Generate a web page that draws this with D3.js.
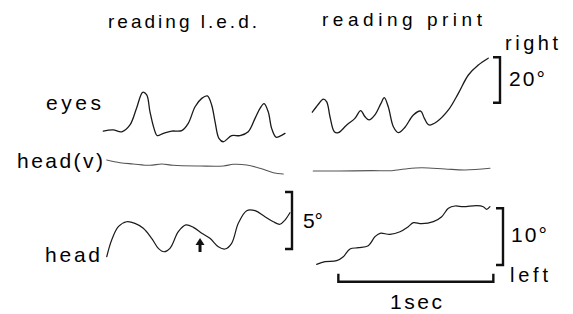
<!DOCTYPE html>
<html>
<head>
<meta charset="utf-8">
<script src="https://cdn.jsdelivr.net/npm/d3@7"></script>
<style>
  body { margin: 0; background: #fff; }
  text { font-family: "Liberation Sans", Arial, sans-serif; fill: #000; }
</style>
</head>
<body>
<svg></svg>
<script>
// traces: [time in ms, degrees]
const ledEyes = [[2,-12.5],[65,-12.0],[121,-12.8],[174,-9.8],[217,-2.3],[256,4.6],[282,3.4],[303,-4.0],[329,-11.3],[350,-14.5],[389,-13.5],[443,-12.5],[508,-12.3],[550,-9.1],[594,-1.8],[637,1.9],[673,3.0],[701,-1.0],[723,-8.4],[748,-15.7],[776,-17.2],[830,-14.5],[884,-14.5],[937,-12.8],[981,-6.9],[1013,-2.5],[1039,-0.4],[1066,-4.0],[1088,-11.3],[1116,-15.2],[1142,-14.7],[1174,-13.5]];
const printEyes = [[2,-4.2],[41,-0.7],[73,1.6],[95,0.4],[116,-6.2],[144,-12.8],[170,-13.2],[224,-9.8],[277,-6.9],[314,-3.5],[342,-6.2],[368,-7.6],[406,-5.4],[445,-0.3],[466,2.2],[492,-1.8],[525,-10.6],[557,-13.2],[600,-10.8],[654,-5.4],[701,-3.7],[725,-6.9],[755,-9.8],[805,-8.4],[880,-3.2],[944,4.1],[1009,12.2],[1073,16.6],[1137,19.6]];
const ledHeadV = [[24,0.53],[110,0.29],[195,0.18],[303,0.06],[379,0.18],[454,0.06],[626,0],[776,0],[841,0.15],[927,0.09],[1013,-0.2],[1099,-0.59],[1163,-0.7]];
const printHeadV = [[8,-0.44],[170,-0.44],[385,-0.41],[514,-0.41],[600,-0.26],[708,-0.15],[858,-0.26],[987,-0.35],[1148,-0.2]];
const ledHead = [[24,-0.68],[56,0.79],[99,1.96],[153,2.39],[206,2.25],[260,1.82],[314,0.94],[357,0.06],[394,-0.24],[432,0.06],[486,1.52],[535,2.11],[583,1.9],[637,1.38],[690,0.94],[744,0.2],[787,0],[830,0.5],[873,2.25],[927,3.36],[981,3.36],[1045,2.83],[1099,2.39],[1142,2.17],[1174,2.54],[1206,3.18]];
const printHead = [[30,0.12],[84,0.58],[159,0.76],[202,1.46],[245,2.82],[299,3.05],[363,3.4],[406,4.99],[439,5.59],[503,5.41],[568,5.87],[621,6.75],[654,7.46],[708,7.28],[783,7.64],[837,8.52],[880,10.0],[923,10.41],[976,10.28],[1062,10.46],[1105,10.28],[1127,9.82],[1148,10.28]];

const titles = ["reading l.e.d.", "reading print"];
const rowLabels = ["eyes", "head(v)", "head"];
const arrowAt = 626; // ms, left head trace
const secBar = [170, 1170];

const width = 573, height = 314;
const svg = d3.select("svg").attr("width", width).attr("height", height);

const tL = d3.scaleLinear().domain([0, 1000]).range([103, 258]);
const tR = d3.scaleLinear().domain([0, 1000]).range([312, 467]);
const eyeY = d3.scaleLinear().domain([0, 20]).range([102.7, 57.3]);
const vY = d3.scaleLinear().domain([0, 5]).range([166, 109]);
const headLY = d3.scaleLinear().domain([0, 5]).range([249, 192]);
const headRY = d3.scaleLinear().domain([0, 10]).range([265, 208.3]);

function trace(data, x, y, stroke, w) {
    const line = d3.line()
        .x(d => x(d[0]))
        .y(d => y(d[1]))
        .curve(d3.curveCatmullRom.alpha(0.5));
    svg.append("path")
        .datum(data)
        .attr("d", line)
        .attr("fill", "none")
        .attr("stroke", stroke)
        .attr("stroke-width", w)
        .attr("stroke-linejoin", "round")
        .attr("stroke-linecap", "round");
}

trace(ledEyes, tL, eyeY, "#1a1a1a", 1.3);
trace(printEyes, tR, eyeY, "#1a1a1a", 1.3);
trace(ledHeadV, tL, vY, "#555", 1.1);
trace(printHeadV, tR, vY, "#555", 1.1);
trace(ledHead, tL, headLY, "#1a1a1a", 1.2);
trace(printHead, tR, headRY, "#1a1a1a", 1.2);

// vertical scale brackets
function vBracket(x, y0, y1) {
    svg.append("path")
        .attr("d", `M${x - 7},${y0}H${x}V${y1}H${x - 7}`)
        .attr("fill", "none")
        .attr("stroke", "#111")
        .attr("stroke-width", 2.4);
}
vBracket(500, eyeY(0), eyeY(20));
vBracket(292, headLY(0), headLY(5));
vBracket(503, headRY(0), headRY(10));

// 1 sec bar
const by = 281.7;
svg.append("path")
    .attr("d", `M${tR(secBar[0])},${by - 8}V${by}H${tR(secBar[1])}V${by - 8}`)
    .attr("fill", "none")
    .attr("stroke", "#111")
    .attr("stroke-width", 2.4);

// arrow
const ax = tL(arrowAt);
const aTip = headLY(0.96), aBot = headLY(-0.26);
svg.append("path")
    .attr("d", `M${ax},${aTip}L${ax + 4.5},${aTip + 7}H${ax + 1.5}V${aBot}H${ax - 1.5}V${aTip + 7}H${ax - 4.5}Z`)
    .attr("fill", "#111");

// labels
function label(txt, x, y, size, len) {
    svg.append("text")
        .attr("x", x)
        .attr("y", y)
        .attr("font-size", size)
        .attr("textLength", len)
        .attr("lengthAdjust", "spacing")
        .text(txt);
}
label(titles[0], 108, 28, 19, 149);
label(titles[1], 322, 26, 19, 160);
label(rowLabels[0], 46, 110, 21, 55);
label(rowLabels[1], 17, 168, 21, 86);
label(rowLabels[2], 45, 262, 21, 55);
label("right", 505, 50, 20, 53);
label("20°", 509, 86, 21, 36);
label("5°", 303, 228, 21, 20);
label("10°", 511, 241.7, 21, 36);
label("left", 510, 281.7, 20, 38);
label("1sec", 390, 309, 21, 52);
</script>
</body>
</html>
